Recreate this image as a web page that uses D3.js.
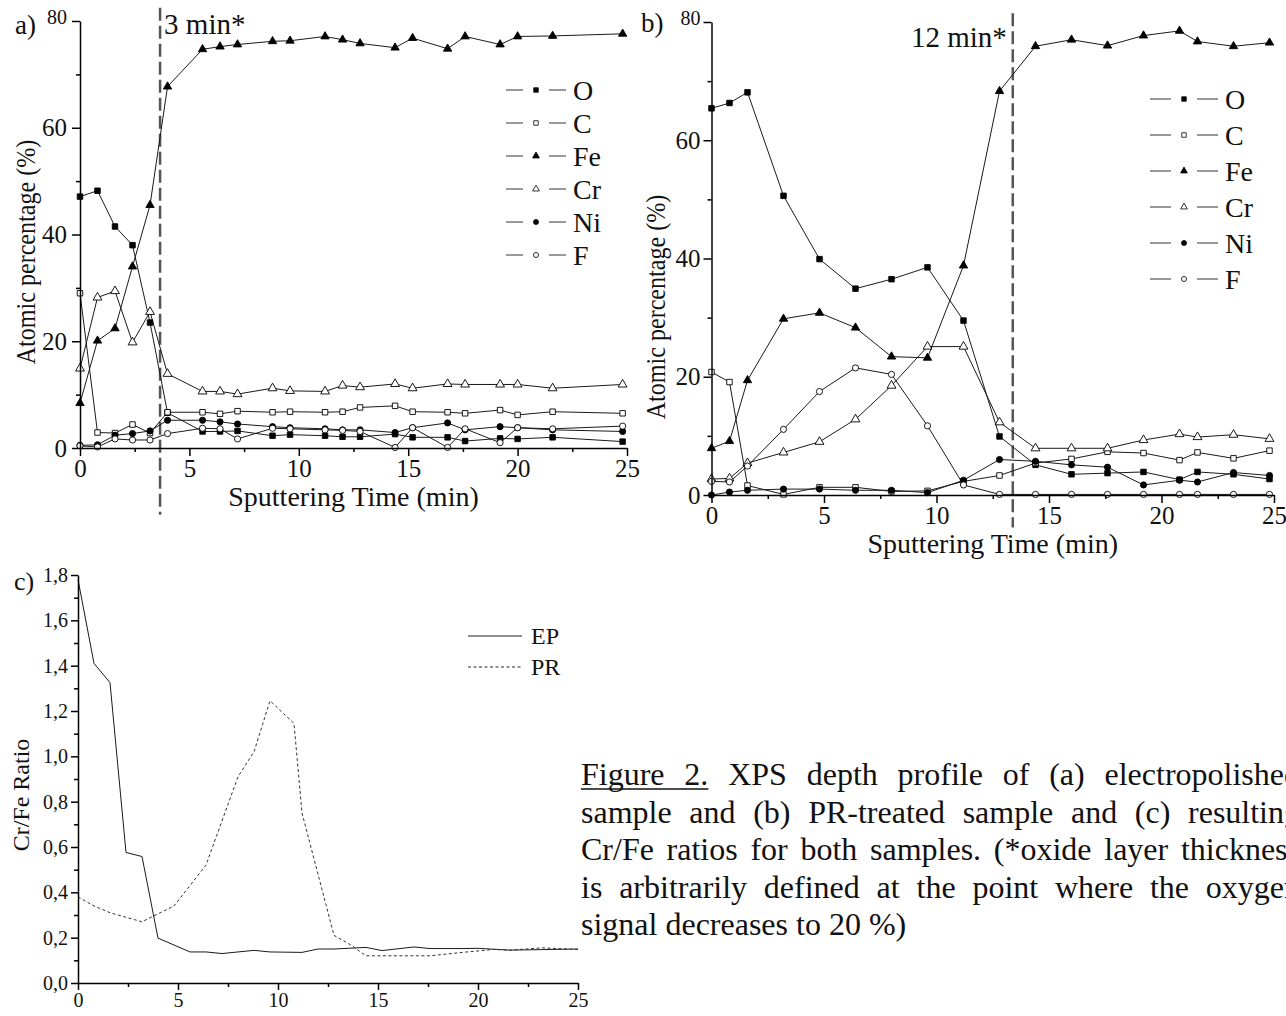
<!DOCTYPE html>
<html>
<head>
<meta charset="utf-8">
<script src="https://cdn.jsdelivr.net/npm/d3@7"></script>
<style>
body { margin: 0; background: #fff; }
text { font-family: "Liberation Serif", "Times New Roman", serif; fill: #111; }
</style>
</head>
<body>
<svg id="fig" width="1286" height="1016"></svg>
<script>
// ---- data ----
var timeA = [0, 0.8, 1.6, 2.4, 3.2, 4.0, 5.6, 6.4, 7.2, 8.8, 9.6, 11.2, 12.0, 12.8, 14.4, 15.2, 16.8, 17.6, 19.2, 20.0, 21.6, 24.8]
var oxygenA = [47.1, 48.2, 41.5, 38.0, 23.5, 6.6, 3.1, 3.1, 3.2, 2.3, 2.5, 2.3, 2.1, 2.1, 2.6, 2.0, 2.0, 1.3, 1.8, 1.7, 2.0, 1.2]
var carbonA = [29.0, 2.9, 2.8, 4.4, 2.8, 6.7, 6.7, 6.4, 6.9, 6.7, 6.8, 6.7, 6.8, 7.6, 7.9, 6.8, 6.7, 6.5, 7.1, 6.2, 6.8, 6.5]
var ironA = [8.4, 20.1, 22.4, 34.0, 45.5, 67.7, 74.7, 75.2, 75.6, 76.2, 76.3, 77.1, 76.5, 75.8, 75.0, 76.8, 74.8, 77.1, 75.6, 77.1, 77.2, 77.6]
var chromiumA = [14.9, 28.2, 29.4, 19.8, 25.5, 13.9, 10.6, 10.6, 10.1, 11.2, 10.7, 10.6, 11.7, 11.4, 12.0, 11.2, 12.0, 11.9, 11.9, 11.9, 11.2, 11.9]
var nickelA = [0.5, 0.6, 2.4, 2.7, 3.2, 5.2, 5.2, 4.9, 4.5, 4.0, 3.8, 3.6, 3.4, 3.4, 2.9, 3.8, 4.7, 3.4, 4.0, 3.8, 3.4, 3.1]
var fluorineA = [0.4, 0.2, 1.7, 1.5, 1.5, 2.7, 3.7, 3.6, 1.7, 3.7, 3.6, 3.4, 3.3, 3.1, 0.1, 3.8, 0.1, 3.6, 1.0, 3.8, 3.6, 4.1]

var timeB = [0, 0.8, 1.6, 3.2, 4.8, 6.4, 8.0, 9.6, 11.2, 12.8, 14.4, 16.0, 17.6, 19.2, 20.8, 21.6, 23.2, 24.8]
var oxygenB = [65.4, 66.3, 68.1, 50.6, 39.9, 34.9, 36.5, 38.5, 29.5, 9.9, 5.1, 3.5, 3.7, 3.9, 2.6, 3.9, 3.5, 2.7]
var carbonB = [20.8, 19.1, 1.6, 0.1, 1.3, 1.3, 0.6, 0.7, 2.3, 3.3, 5.4, 6.1, 7.3, 7.1, 5.9, 7.2, 6.2, 7.5]
var ironB = [7.9, 9.1, 19.4, 29.8, 30.8, 28.3, 23.4, 23.2, 38.8, 68.3, 75.9, 77.0, 76.0, 77.7, 78.5, 76.7, 75.9, 76.5]
var chromiumB = [2.7, 2.8, 5.4, 7.2, 9.0, 12.8, 18.5, 25.1, 25.1, 12.3, 7.9, 7.9, 7.9, 9.3, 10.3, 9.8, 10.2, 9.5]
var nickelB = [0.0, 0.5, 0.8, 1.0, 1.0, 0.8, 0.8, 0.4, 2.5, 6.0, 5.7, 5.1, 4.7, 1.7, 2.5, 2.2, 3.8, 3.3]
var fluorineB = [2.3, 2.2, 4.9, 11.1, 17.5, 21.5, 20.4, 11.7, 1.7, 0.1, 0.1, 0.1, 0.1, 0.1, 0.1, 0.1, 0.1, 0.1]

var timeEP = [0, 0.8, 1.6, 2.4, 3.2, 4.0, 5.6, 6.4, 7.2, 8.8, 9.6, 11.2, 12.0, 12.8, 14.4, 15.2, 16.8, 17.6, 19.2, 20.0, 21.6, 25]
var ratioEP = [1.78, 1.41, 1.325, 0.576, 0.558, 0.198, 0.137, 0.137, 0.13, 0.144, 0.137, 0.135, 0.15, 0.15, 0.157, 0.143, 0.159, 0.152, 0.152, 0.153, 0.145, 0.15]
var timePR = [0, 0.8, 1.6, 3.2, 4.8, 6.4, 8.0, 8.8, 9.6, 10.8, 11.2, 12.8, 13.6, 14.4, 16.0, 17.6, 19.2, 20.8, 21.6, 23.2, 25]
var ratioPR = [0.38, 0.34, 0.31, 0.27, 0.34, 0.52, 0.91, 1.02, 1.245, 1.145, 0.75, 0.21, 0.17, 0.12, 0.12, 0.12, 0.135, 0.148, 0.145, 0.155, 0.148]

var elements = ["O", "C", "Fe", "Cr", "Ni", "F"]
var ratioSeries = ["EP", "PR"]
var percentTicks = [0, 20, 40, 60, 80]
var percentMinor = [10, 30, 50, 70]
var timeTicks = [0, 5, 10, 15, 20, 25]
var timeMinor = [2.5, 7.5, 12.5, 17.5, 22.5]
var ratioTicks = [0, 0.2, 0.4, 0.6, 0.8, 1.0, 1.2, 1.4, 1.6, 1.8]
var ratioMinor = [0.1, 0.3, 0.5, 0.7, 0.9, 1.1, 1.3, 1.5, 1.7]
var oxideA = 3.66
var oxideB = 13.39
var captionLines = [
    "Figure 2. XPS depth profile of (a) electropolished",
    "sample and (b) PR-treated sample and (c) resulting",
    "Cr/Fe ratios for both samples. (*oxide layer thickness",
    "is arbitrarily defined at the point where the oxygen",
    "signal decreases to 20 %)"
]

// ---- drawing ----
var svg = d3.select("#fig")
var SERIF = '"Liberation Serif", "Times New Roman", serif'
var SANS = '"Liberation Sans", Arial, sans-serif'

var markStyle = {
    O: {shape: d3.symbolSquare, fill: "#000", size: 30},
    C: {shape: d3.symbolSquare, fill: "#fff", size: 30},
    Fe: {shape: d3.symbolTriangle, fill: "#000", size: 30},
    Cr: {shape: d3.symbolTriangle, fill: "#fff", size: 34},
    Ni: {shape: d3.symbolCircle, fill: "#000", size: 30},
    F: {shape: d3.symbolCircle, fill: "#fff", size: 30}
}

function styleAxis(sel, fontSize){
    sel.attr("font-family", SERIF).attr("font-size", fontSize)
    sel.selectAll("line").attr("stroke", "#000").attr("stroke-width", 1.5)
    sel.selectAll("path").attr("stroke", "#000").attr("stroke-width", 1.5)
    sel.selectAll("text").attr("fill", "#111")
}

function drawProfile(o){
    var g = svg.append("g")
    var x = d3.scaleLinear().domain([0, 25]).range([o.left, o.right])
    var y = d3.scaleLinear().domain([0, 80]).range([o.bottom, o.top])
    var line = d3.line().x(function(d){ return x(d[0]) }).y(function(d){ return y(d[1]) })

    // oxide thickness marker
    g.append("line")
        .attr("x1", x(o.oxide)).attr("x2", x(o.oxide))
        .attr("y1", y(o.dashTop)).attr("y2", y(o.dashBottom))
        .attr("stroke", "#555").attr("stroke-width", 2.5).attr("stroke-dasharray", "13,5")

    o.series.forEach(function(s){
        var pts = o.time.map(function(t, i){ return [t, s.values[i]] })
        g.append("path").attr("d", line(pts)).attr("fill", "none")
            .attr("stroke", "#1a1a1a").attr("stroke-width", 1)
    })
    o.series.forEach(function(s){
        var st = markStyle[s.name]
        var sym = d3.symbol().type(st.shape).size(st.size)
        g.selectAll(null).data(o.time.map(function(t, i){ return [t, s.values[i]] }))
            .enter().append("path")
            .attr("d", sym)
            .attr("transform", function(d){ return "translate(" + x(d[0]) + "," + y(d[1]) + ")" })
            .attr("fill", st.fill).attr("stroke", "#000").attr("stroke-width", 0.9)
    })

    // axes
    var xa = g.append("g").attr("transform", "translate(0," + o.bottom + ")")
        .call(d3.axisBottom(x).tickValues(timeTicks).tickSize(8).tickSizeOuter(0).tickPadding(3))
    styleAxis(xa, 25)
    var xm = g.append("g").attr("transform", "translate(0," + o.bottom + ")")
        .call(d3.axisBottom(x).tickValues(timeMinor).tickSize(4).tickFormat(""))
    xm.select(".domain").remove()
    styleAxis(xm, 25)

    var ya = g.append("g").attr("transform", "translate(" + o.left + ",0)")
        .call(d3.axisLeft(y).tickValues(percentTicks).tickSize(8).tickSizeOuter(0).tickPadding(o.yPad))
    styleAxis(ya, 25)
    ya.selectAll(".tick text").filter(function(d){ return d === 80 }).attr("font-size", 20).attr("dy", "0.1em")
    var ym = g.append("g").attr("transform", "translate(" + o.left + ",0)")
        .call(d3.axisLeft(y).tickValues(percentMinor).tickSize(4).tickFormat(""))
    ym.select(".domain").remove()
    styleAxis(ym, 25)

    // titles
    g.append("text").attr("transform", "translate(" + o.yTitleX + "," + o.yTitleY + ") rotate(-90) scale(0.86,1)")
        .attr("text-anchor", "middle").attr("font-size", 28).text("Atomic percentage (%)")
    g.append("text").attr("x", (o.left + o.right) / 2).attr("y", o.xTitleY)
        .attr("text-anchor", "middle").attr("font-size", 28).text("Sputtering Time (min)")
    g.append("text").attr("x", o.tagX).attr("y", o.tagY)
        .attr("font-family", SANS).attr("font-size", 27).text(o.tag)
    g.append("text").attr("x", x(o.oxide) + o.noteDx).attr("y", o.noteY)
        .attr("text-anchor", o.noteAnchor).attr("font-size", 29).text(o.note)

    // legend
    o.series.forEach(function(s, i){
        var ly = o.legendY + i * o.legendStep
        var st = markStyle[s.name]
        g.append("line").attr("x1", o.legendX).attr("x2", o.legendX + o.legendSeg)
            .attr("y1", ly).attr("y2", ly).attr("stroke", "#333").attr("stroke-width", 1)
        g.append("line").attr("x1", o.legendX + o.legendSeg + 26).attr("x2", o.legendX + 2 * o.legendSeg + 26)
            .attr("y1", ly).attr("y2", ly).attr("stroke", "#333").attr("stroke-width", 1)
        g.append("path").attr("d", d3.symbol().type(st.shape).size(20)())
            .attr("transform", "translate(" + (o.legendX + o.legendSeg + 13) + "," + ly + ")")
            .attr("fill", st.fill).attr("stroke", "#000").attr("stroke-width", 0.8)
        g.append("text").attr("x", o.legendX + 2 * o.legendSeg + 33).attr("y", ly + 10)
            .attr("font-size", 28).text(s.name)
    })
}

drawProfile({
    left: 80, right: 627, top: 21, bottom: 448,
    time: timeA,
    series: [
        {name: elements[0], values: oxygenA}, {name: elements[1], values: carbonA},
        {name: elements[2], values: ironA}, {name: elements[3], values: chromiumA},
        {name: elements[4], values: nickelA}, {name: elements[5], values: fluorineA}
    ],
    oxide: oxideA, dashTop: 82.5, dashBottom: -12.5,
    note: "3 min*", noteDx: 4, noteY: 34, noteAnchor: "start",
    tag: "a)", tagX: 15, tagY: 34, yPad: 5,
    yTitleX: 35, yTitleY: 252, xTitleY: 506,
    legendX: 506, legendSeg: 17, legendY: 90, legendStep: 33
})

drawProfile({
    left: 711.5, right: 1274, top: 22, bottom: 495,
    time: timeB,
    series: [
        {name: elements[0], values: oxygenB}, {name: elements[1], values: carbonB},
        {name: elements[2], values: ironB}, {name: elements[3], values: chromiumB},
        {name: elements[4], values: nickelB}, {name: elements[5], values: fluorineB}
    ],
    oxide: oxideB, dashTop: 81.5, dashBottom: -5.5,
    note: "12 min*", noteDx: -6, noteY: 47, noteAnchor: "end",
    tag: "b)", tagX: 641, tagY: 32, yPad: 3,
    yTitleX: 665, yTitleY: 307, xTitleY: 553,
    legendX: 1150, legendSeg: 21, legendY: 99, legendStep: 36
})

// ---- panel c: Cr/Fe ratio ----
;(function(){
    var g = svg.append("g")
    var x = d3.scaleLinear().domain([0, 25]).range([78, 578])
    var y = d3.scaleLinear().domain([0, 1.8]).range([983, 575])
    var line = d3.line().x(function(d){ return x(d[0]) }).y(function(d){ return y(d[1]) })
    var comma = function(d){ return d3.format(".1f")(d).replace(".", ",") }

    g.append("path").attr("d", line(timeEP.map(function(t, i){ return [t, ratioEP[i]] })))
        .attr("fill", "none").attr("stroke", "#1a1a1a").attr("stroke-width", 1)
    g.append("path").attr("d", line(timePR.map(function(t, i){ return [t, ratioPR[i]] })))
        .attr("fill", "none").attr("stroke", "#333").attr("stroke-width", 1).attr("stroke-dasharray", "3,2.5")

    var xa = g.append("g").attr("transform", "translate(0,983)")
        .call(d3.axisBottom(x).tickValues(timeTicks).tickSize(7).tickSizeOuter(0).tickPadding(3))
    styleAxis(xa, 20)
    var xm = g.append("g").attr("transform", "translate(0,983)")
        .call(d3.axisBottom(x).tickValues(timeMinor).tickSize(4).tickFormat(""))
    xm.select(".domain").remove()
    styleAxis(xm, 20)
    var ya = g.append("g").attr("transform", "translate(78,0)")
        .call(d3.axisLeft(y).tickValues(ratioTicks).tickSize(7).tickSizeOuter(0).tickPadding(3).tickFormat(comma))
    styleAxis(ya, 20)
    var ym = g.append("g").attr("transform", "translate(78,0)")
        .call(d3.axisLeft(y).tickValues(ratioMinor).tickSize(4).tickFormat(""))
    ym.select(".domain").remove()
    styleAxis(ym, 20)

    g.append("text").attr("transform", "translate(29,795) rotate(-90)")
        .attr("text-anchor", "middle").attr("font-size", 24).text("Cr/Fe Ratio")
    g.append("text").attr("x", 14).attr("y", 590)
        .attr("font-family", SANS).attr("font-size", 26).text("c)")

    ratioSeries.forEach(function(name, i){
        var ly = 636 + i * 31
        g.append("line").attr("x1", 468).attr("x2", 522).attr("y1", ly).attr("y2", ly)
            .attr("stroke", "#222").attr("stroke-width", 1)
            .attr("stroke-dasharray", i === 1 ? "3,2.5" : null)
        g.append("text").attr("x", 531).attr("y", ly + 8).attr("font-size", 24).text(name)
    })
})()

// ---- caption, justified ----
;(function(){
    var left = 581, right = 1300, base = 785, step = 37.5, fs = 32
    captionLines.forEach(function(str, li){
        var words = str.split(" ")
        var ty = base + li * step
        var widths = []
        var nodes = words.map(function(w){
            var t = svg.append("text").attr("y", ty).attr("font-size", fs).text(w)
            widths.push(t.node().getComputedTextLength())
            return t
        })
        var total = d3.sum(widths)
        var gap = li < captionLines.length - 1 ? (right - left - total) / (words.length - 1) : fs * 0.25
        var cx = left
        nodes.forEach(function(t, i){
            t.attr("x", cx)
            if (li === 0 && i === 1){
                svg.append("line").attr("x1", left).attr("x2", cx + widths[i])
                    .attr("y1", ty + 4).attr("y2", ty + 4).attr("stroke", "#111").attr("stroke-width", 1.5)
            }
            cx += widths[i] + gap
        })
    })
})()
</script>
</body>
</html>
